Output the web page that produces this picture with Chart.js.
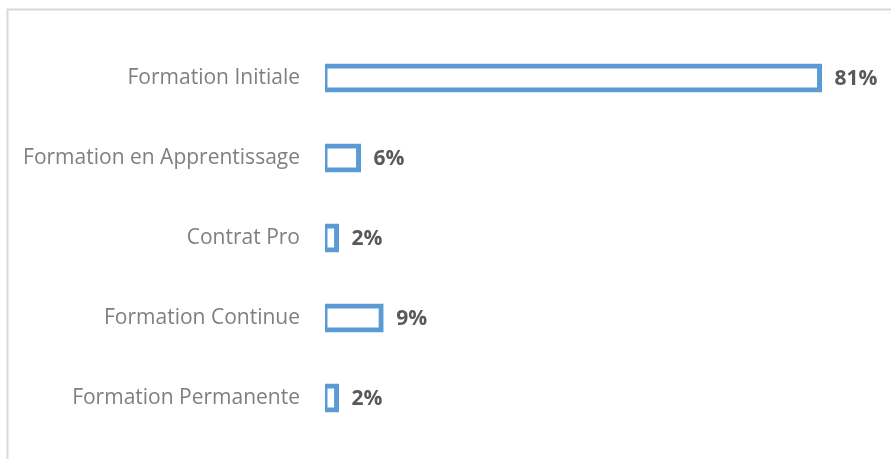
<!DOCTYPE html>
<html lang="fr">
<head>
    <meta charset="UTF-8" />
    <title>Formations</title>
    <script src="https://cdn.jsdelivr.net/npm/chart.js@4.4.1/dist/chart.umd.min.js"></script>
    <style>
        html, body { margin: 0; padding: 0; background: #fff; overflow: hidden; }
        canvas { display: block; }
    </style>
</head>
<body>
    <canvas id="myChart" width="891" height="459"></canvas>
    <script>
        let categories = ['Formation Initiale', 'Formation en Apprentissage', 'Contrat Pro', 'Formation Continue', 'Formation Permanente']
        let shares = [81, 5.5, 1.9, 9.2, 1.9]
        let labelFont = 'Open Sans'

        // light grey frame, only the top and left sides are visible in the picture
        const framePlugin = {
            id: 'frame',
            beforeDraw(chart) {
                const ctx = chart.ctx
                ctx.save()
                ctx.strokeStyle = '#d9d9d9'
                ctx.lineWidth = 2
                ctx.beginPath()
                ctx.moveTo(7.5, 470)
                ctx.lineTo(7.5, 9.5)
                ctx.lineTo(900, 9.5)
                ctx.stroke()
                ctx.restore()
            }
        }

        // percentage shown after each bar
        const valueLabels = {
            id: 'valueLabels',
            afterDatasetsDraw(chart) {
                const ctx = chart.ctx
                const meta = chart.getDatasetMeta(0)
                ctx.save()
                ctx.font = 'bold 21px ' + labelFont
                ctx.fillStyle = '#595959'
                ctx.textBaseline = 'middle'
                ctx.textAlign = 'left'
                meta.data.forEach((bar, i) => {
                    ctx.fillText(Math.round(shares[i]) + '%', bar.x + 15, bar.y + 1.5)
                })
                ctx.restore()
            }
        }

        const ctx = document.getElementById('myChart').getContext('2d')
        const chart = new Chart(ctx, {
            type: 'bar',
            data: {
                labels: categories,
                datasets: [{
                    data: shares,
                    backgroundColor: '#ffffff',
                    borderColor: '#5b9bd5',
                    borderWidth: 5,
                    borderSkipped: false,
                    inflateAmount: 2.5,
                    barThickness: 24
                }]
            },
            options: {
                indexAxis: 'y',
                responsive: false,
                animation: false,
                layout: { padding: { left: 0, right: 16.5, top: 38, bottom: 21 } },
                plugins: {
                    legend: { display: false },
                    tooltip: { enabled: false }
                },
                scales: {
                    x: {
                        display: false,
                        min: 0,
                        max: 90,
                        afterFit(scale) { scale.height = 0 }
                    },
                    y: {
                        afterFit(scale) {
                            scale.width = 325
                            scale.paddingTop = 0
                            scale.paddingBottom = 0
                        },
                        grid: { display: false, drawTicks: false },
                        border: { display: false },
                        ticks: {
                            padding: 25,
                            color: '#7f7f7f',
                            font: { family: labelFont, size: 21 }
                        }
                    }
                }
            },
            plugins: [framePlugin, valueLabels]
        })
    </script>
</body>
</html>
